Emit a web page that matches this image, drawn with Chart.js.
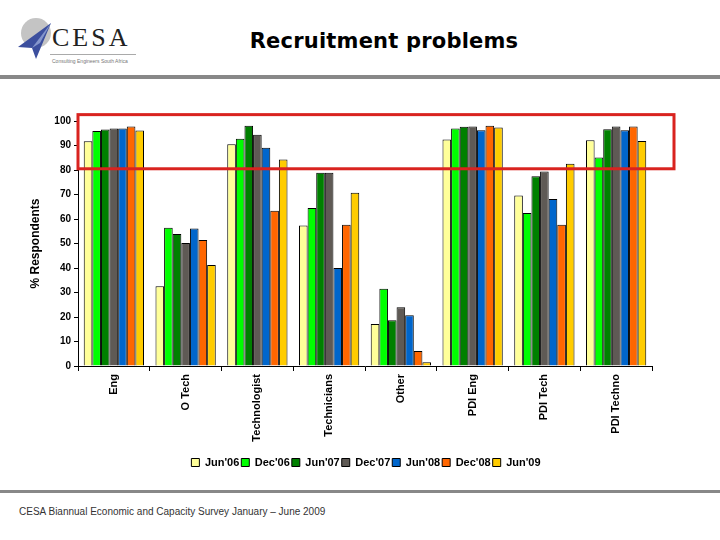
<!DOCTYPE html>
<html>
<head>
<meta charset="utf-8">
<script src="https://cdn.jsdelivr.net/npm/chart.js@4/dist/chart.umd.min.js"></script>
<style>
  html, body { margin:0; padding:0; background:#fff; }
  #wrap { position:relative; width:720px; height:540px; overflow:hidden; font-family:"Liberation Sans", Arial, sans-serif; }
  #c { position:absolute; left:0; top:0; width:720px; height:540px; }
  .band { position:absolute; left:0; width:720px; background:#888; }
  #title { position:absolute; left:0; width:768px; top:29px; text-align:center; font-family:"DejaVu Sans", Verdana, sans-serif; font-weight:bold; font-size:21px; color:#000; letter-spacing:0.2px; }
  #footer { position:absolute; left:19px; top:506px; font-size:10px; color:#333; }
  #logoText { position:absolute; left:52px; top:25px; font-family:"Liberation Serif", serif; font-size:26px; letter-spacing:3px; color:#222; line-height:26px; }
  #logoLine { position:absolute; left:50px; top:54px; width:86px; height:1px; background:#aaa; }
  #logoSub { position:absolute; left:52px; top:58px; font-size:5px; color:#777; white-space:nowrap; }
</style>
</head>
<body>
<div id="wrap">
  <svg style="position:absolute;left:0;top:0" width="60" height="70">
    <circle cx="36" cy="33" r="15" fill="#c4c4c4"/>
    <polygon points="18,47 51,23 36,59 32,48" fill="#3c4f9e"/>
    <polygon points="32,48 51,23 40,43" fill="#8596cc"/>
  </svg>
  <div id="logoText">CESA</div>
  <div id="logoLine"></div>
  <div id="logoSub">Consulting Engineers South Africa</div>
  <div id="title">Recruitment problems</div>
  <div class="band" style="top:75px;height:4px"></div>
  <div class="band" style="top:490px;height:3px"></div>
  <div id="footer">CESA Biannual Economic and Capacity Survey January – June 2009</div>
  <canvas id="c" width="720" height="540"></canvas>
</div>
<script>
const categories = ["Eng", "O Tech", "Technologist", "Technicians", "Other", "PDI Eng", "PDI Tech", "PDI Techno"];
const seriesNames = ["Jun'06", "Dec'06", "Jun'07", "Dec'07", "Jun'08", "Dec'08", "Jun'09"];
const jun06 = [91.7, 32.6, 90.5, 57.3, 17.1, 92.5, 69.6, 92.1];
const dec06 = [95.9, 56.4, 92.8, 64.5, 31.5, 96.9, 62.5, 85.1];
const jun07 = [96.5, 53.9, 98.1, 78.9, 18.7, 97.7, 77.4, 96.6];
const dec07 = [96.9, 50.2, 94.4, 78.9, 24.0, 97.8, 79.4, 97.8];
const jun08 = [96.9, 56.1, 89.1, 40.0, 20.7, 96.2, 68.2, 96.2];
const dec08 = [97.8, 51.4, 63.4, 57.7, 6.1, 98.1, 57.7, 97.8];
const jun09 = [96.1, 41.2, 84.3, 70.7, 1.5, 97.3, 82.6, 91.8];
const yTicks = [0, 10, 20, 30, 40, 50, 60, 70, 80, 90, 100];
const highlightRange = [80.5, 102.6];

const seriesValues = [jun06, dec06, jun07, dec07, jun08, dec08, jun09];
const colors = ["#FFFF99", "#00FF00", "#008000", "#5F5A55", "#0066CC", "#FF6600", "#FFCC00"];

const highlightPlugin = {
  id: 'highlight',
  afterDatasetsDraw(chart) {
    const {ctx, chartArea, scales} = chart;
    const yTop = scales.y.getPixelForValue(highlightRange[1]);
    const yBot = scales.y.getPixelForValue(highlightRange[0]);
    ctx.save();
    ctx.strokeStyle = '#D9231F';
    ctx.lineWidth = 3;
    ctx.strokeRect(chartArea.left, yTop, chartArea.right + 22 - chartArea.left, yBot - yTop);
    ctx.restore();
  }
};

new Chart(document.getElementById('c'), {
  type: 'bar',
  data: {
    labels: categories,
    datasets: seriesNames.map((n, i) => ({
      label: n,
      data: seriesValues[i],
      backgroundColor: colors[i],
      borderColor: '#000',
      borderWidth: 1,
      categoryPercentage: 0.84,
      barPercentage: 1.0
    }))
  },
  options: {
    responsive: false,
    animation: false,
    devicePixelRatio: 1,
    layout: { padding: { top: 121, left: 12, right: 0, bottom: 62 } },
    plugins: {
      legend: {
        position: 'bottom',
        labels: {
          boxWidth: 8, boxHeight: 8, padding: 2,
          color: '#000',
          font: { family: "'Liberation Sans', Arial", size: 11, weight: 'bold' }
        }
      },
      tooltip: { enabled: false },
      title: { display: false }
    },
    scales: {
      x: {
        grid: { display: true, drawOnChartArea: false, offset: true, tickLength: 5, color: '#000' },
        border: { display: true, color: '#000', width: 1 },
        ticks: {
          maxRotation: 90, minRotation: 90, padding: 3, color: '#000',
          font: { family: "'Liberation Sans', Arial", size: 11, weight: 'bold' }
        },
        afterFit(scale) { scale.height = 89; }
      },
      y: {
        min: 0, max: 100,
        afterBuildTicks(scale) { scale.ticks = yTicks.map(v => ({ value: v })); },
        grid: { display: true, drawOnChartArea: false, tickLength: 4, color: '#000' },
        border: { display: true, color: '#000', width: 1 },
        ticks: {
          padding: 3, color: '#000',
          font: { family: "'Liberation Sans', Arial", size: 10, weight: 'bold' }
        },
        title: {
          display: true, text: '% Respondents', color: '#000',
          padding: { top: 16, bottom: 0 },
          font: { family: "'Liberation Sans', Arial", size: 12, weight: 'bold' }
        },
        afterFit(scale) { scale.width = 66; }
      },
      yRight: {
        position: 'right',
        display: true,
        grid: { display: false },
        border: { display: false },
        ticks: { display: false },
        afterFit(scale) { scale.width = 68; }
      }
    }
  },
  plugins: [highlightPlugin]
});
</script>
</body>
</html>
